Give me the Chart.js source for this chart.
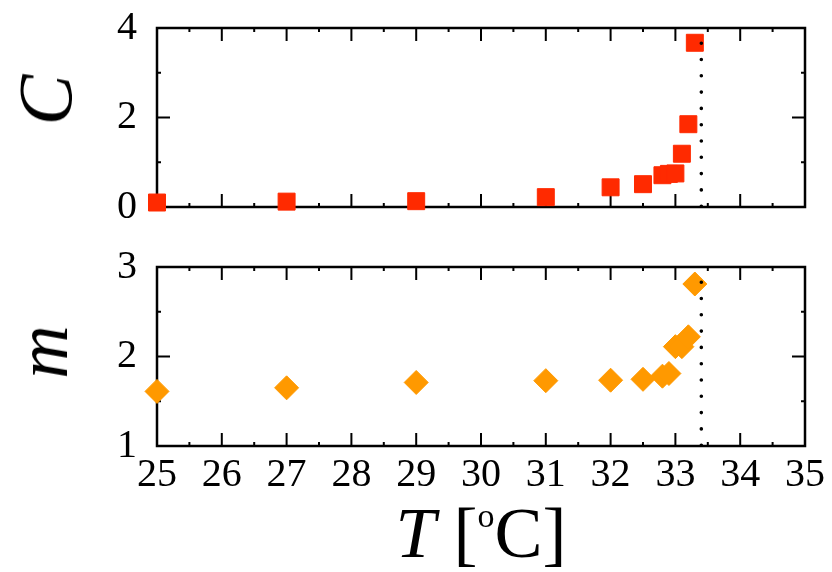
<!DOCTYPE html>
<html>
<head>
<meta charset="utf-8">
<script src="https://cdn.jsdelivr.net/npm/chart.js@4.4.1/dist/chart.umd.min.js"></script>
<style>
  html, body { margin: 0; padding: 0; background: #fff; }
  #wrap { position: relative; width: 832px; height: 572px; overflow: hidden; }
  #wrap canvas { position: absolute; left: 0; }
  .ttl {
    position: absolute;
    font-family: "Liberation Serif", "Times New Roman", serif;
    line-height: 1;
    white-space: nowrap;
    color: #000;
  }
  .rot { transform: translate(-50%, -50%) rotate(-90deg); }
</style>
</head>
<body>
<div id="wrap">
  <canvas id="chart-c" width="832" height="235" style="top:0"></canvas>
  <canvas id="chart-m" width="832" height="337" style="top:235px"></canvas>
  <div class="ttl rot" style="left:45px; top:100px; font-size:76px; font-style:italic">C</div>
  <div class="ttl rot" style="left:42px; top:352px; font-size:74px; font-style:italic">m</div>
  <div class="ttl" style="left:0; width:962px; text-align:center; top:497px; font-size:72px">
    <i>T</i> [<span style="font-size:34px; vertical-align:30px">o</span>C]
  </div>
</div>
<script>
// temperature [oC]
const temps = [25, 27, 29, 31, 32, 32.5, 32.8, 32.9, 33.0, 33.1, 33.2, 33.3];
// top panel
const cValues = [0.1, 0.12, 0.13, 0.22, 0.44, 0.51, 0.71, 0.74, 0.75, 1.19, 1.85, 3.67];
// bottom panel
const mValues = [1.61, 1.65, 1.71, 1.73, 1.735, 1.745, 1.78, 1.81, 2.11, 2.11, 2.22, 2.81];

const xTicks = { min: 25, max: 35, step: 1 };
const cTicks = { min: 0, max: 4, step: 1 };
const mTicks = { min: 1, max: 3, step: 0.5 };

// vertical dotted marker
const markerT = 33.4;
const cMarkerTop = 3.66;
const mMarkerTop = 2.83;

const SERIF = "'Liberation Serif', 'Times New Roman', serif";
const RED = "#ff2a00";
const ORANGE = "#ff9900";

// frame + inward ticks on all four sides (drawn under the points)
const frameTicks = {
  id: "frameTicks",
  beforeDatasetsDraw(chart) {
    const { ctx, chartArea: a, scales } = chart;
    const xs = scales.x;
    const ys = scales.y;
    ctx.save();
    ctx.strokeStyle = "#000";
    ctx.lineWidth = 2;
    ctx.lineCap = "butt";
    ctx.beginPath();
    const vt = (px, len) => {
      ctx.moveTo(px, a.top); ctx.lineTo(px, a.top + len);
      ctx.moveTo(px, a.bottom); ctx.lineTo(px, a.bottom - len);
    };
    const ht = (py, len) => {
      ctx.moveTo(a.left, py); ctx.lineTo(a.left + len, py);
      ctx.moveTo(a.right, py); ctx.lineTo(a.right - len, py);
    };
    const xv = xs.ticks.map((t) => t.value);
    xv.forEach((v, i) => {
      vt(xs.getPixelForValue(v), 13);
      if (i < xv.length - 1) vt(xs.getPixelForValue((v + xv[i + 1]) / 2), 4);
    });
    ys.ticks.forEach((t) => {
      const major = ys.options.ticks.callback.call(ys, t.value) !== "";
      ht(ys.getPixelForValue(t.value), major ? 13 : 4);
    });
    ctx.stroke();
    ctx.lineWidth = 2.5;
    ctx.strokeRect(a.left, a.top, a.width, a.height);
    ctx.restore();
  },
};

function markerSet(top, bottom) {
  return {
    data: [{ x: markerT, y: top }, { x: markerT, y: bottom }],
    showLine: true,
    pointRadius: 0,
    borderColor: "#000",
    borderWidth: 3.6,
    borderDash: [0, 16.3],
    borderCapStyle: "round",
    clip: false,
  };
}

function pointSet(values, style, colour) {
  return {
    data: temps.map((t, i) => ({ x: t, y: values[i] })),
    pointStyle: style,
    pointRadius: 12,
    pointHoverRadius: 12,
    backgroundColor: colour,
    borderColor: colour,
    borderWidth: 1,
    clip: false,
  };
}

function yScale(range, labelled) {
  return {
    min: range.min,
    max: range.max,
    grid: { display: false },
    border: { display: false },
    afterFit: (s) => { s.width = 157; },
    ticks: {
      stepSize: range.step,
      padding: 12,
      color: "#000",
      font: { family: SERIF, size: 40, lineHeight: 0.8 },
      callback: labelled,
    },
  };
}

function xScale(showLabels) {
  const scale = {
    type: "linear",
    min: xTicks.min,
    max: xTicks.max,
    display: showLabels,
    grid: { display: false },
    border: { display: false },
    ticks: {
      stepSize: xTicks.step,
      autoSkip: false,
      maxRotation: 0,
      padding: -3,
      color: "#000",
      font: { family: SERIF, size: 40 },
    },
  };
  if (showLabels) scale.afterFit = (s) => { s.height = 126; };
  return scale;
}

const common = {
  responsive: false,
  animation: false,
  events: [],
  plugins: { legend: { display: false }, tooltip: { enabled: false } },
};

function draw() {
  new Chart(document.getElementById("chart-c"), {
    type: "scatter",
    data: {
      datasets: [
        markerSet(cMarkerTop, cTicks.min),
        pointSet(cValues, "rect", RED),
      ],
    },
    options: {
      ...common,
      layout: { padding: { left: 0, right: 27, top: 28, bottom: 28 } },
      scales: {
        x: xScale(false),
        y: yScale(cTicks, (v) => (v % 2 === 0 ? String(v) : "")),
      },
    },
    plugins: [frameTicks],
  });

  new Chart(document.getElementById("chart-m"), {
    type: "scatter",
    data: {
      datasets: [
        markerSet(mMarkerTop, mTicks.min),
        pointSet(mValues, "rectRot", ORANGE),
      ],
    },
    options: {
      ...common,
      layout: { padding: { left: 0, right: 27, top: 32, bottom: 0 } },
      scales: {
        x: xScale(true),
        y: yScale(mTicks, (v) => (Number.isInteger(v) ? String(v) : "")),
      },
    },
    plugins: [frameTicks],
  });
}

Promise.all([
  document.fonts.load("40px 'Liberation Serif'"),
  document.fonts.load("italic 40px 'Liberation Serif'"),
]).then(draw, draw);
</script>
</body>
</html>
